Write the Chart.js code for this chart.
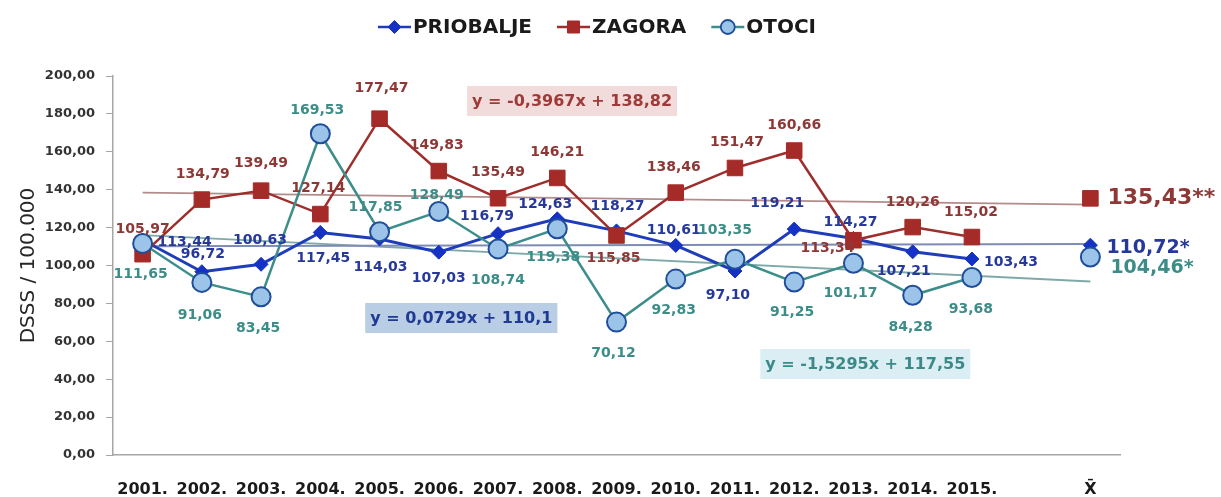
<!DOCTYPE html>
<html><head><meta charset="utf-8">
<script src="https://cdn.jsdelivr.net/npm/chart.js@4.4.1/dist/chart.umd.min.js"></script>
<style>html,body{margin:0;padding:0;background:#fff;}#wrap{width:1221px;height:497px;}</style>
</head><body><div id="wrap"><canvas id="c" width="1221" height="497"></canvas></div>
<script>
// ---------- DATA ----------
const categories = ['2001.','2002.','2003.','2004.','2005.','2006.','2007.','2008.','2009.','2010.','2011.','2012.','2013.','2014.','2015.','','X\u0304'];
const seriesNames = ['PRIOBALJE','ZAGORA','OTOCI'];
const priobalje = [113.44,96.72,100.63,117.45,114.03,107.03,116.79,124.63,118.27,110.61,97.10,119.21,114.27,107.21,103.43];
const zagora    = [105.97,134.79,139.49,127.14,177.47,149.83,135.49,146.21,115.85,138.46,151.47,160.66,113.34,120.26,115.02];
const otoci     = [111.65,91.06,83.45,169.53,117.85,128.49,108.74,119.38,70.12,92.83,103.35,91.25,101.17,84.28,93.68];
const meanValues = [110.72,135.43,104.46];
const meanLabels = ['110,72*','135,43**','104,46*'];
// trend line values read at the first category and at the X̄ position
const trendPriobalje = [110.17,111.34];
const trendZagora    = [138.42,132.08];
const trendOtoci     = [116.02,91.55];
const equations = ['y = 0,0729x + 110,1','y = -0,3967x + 138,82','y = -1,5295x + 117,55'];
const yTicks = [0,20,40,60,80,100,120,140,160,180,200];
const yTitle = 'DSSS / 100.000';

// ---------- STYLE ----------
const colors = {
  line:  ['#1F3DB8','#9E2E2C','#3D8E8B'],
  fill:  ['#1632C4','#A52B28','#9CC4E8'],
  border:['#1632C4','#A52B28','#1F4E9A'],
  label: ['#26389A','#8E3836','#3C8C88'],
  trend: ['#7E8CB4','#B28C8A','#7FA9A8'],
  eqBg:  ['#B9CDE5','#F2DCDB','#DBEEF4'],
  eqText:['#1F3A93','#A03A38','#3B8A88']
};
const pointStyles = ['rectRot','rect','circle'];
const pointRadii = [7,11,9.5];
const pointBorderW = [1,1,2];
// label offsets (dx, dy) in px from the marker, per series
const labelOffsets = [
  [[42,2],[1,-17],[-1,-24],[3,26],[1,28],[0,26],[-11,-17],[-12,-14],[1,-25],[-2,-15],[-7,24],[-17,-26],[-3,-16],[-9,20],[39,3]],
  [[0,-25],[1,-25],[0,-27],[-2,-26],[2,-30],[-2,-26],[0,-26],[0,-26],[-3,23],[-2,-25],[2,-26],[0,-25],[-26,8],[0,-25],[-1,-25]],
  [[-2,31],[-2,33],[-3,31],[-3,-23],[-4,-24],[-2,-16],[0,31],[-4,29],[-3,31],[-2,31],[-10,-29],[-2,30],[-3,30],[-2,32],[-1,32]]
];
const meanLabelOffsets = [[16,3],[17,0],[20,11]];
const meanLabelSizes = [19,22,19];
// equation box anchors in (category index, value) units
const eqAnchors = [[5.38,72.3],[7.25,186.8],[12.2,48]];

const FONT = 'DejaVu Sans';
const N = categories.length;
function full(vals){const a=new Array(N).fill(null);vals.forEach((v,i)=>a[i]=v);return a;}
function atEnd(v){const a=new Array(N).fill(null);a[N-1]=v;return a;}
function trend(p){const a=new Array(N).fill(null);a[0]=p[0];a[N-1]=p[1];return a;}
const fmt = v => v.toFixed(2).replace('.',',');

const seriesData = [priobalje,zagora,otoci];
const trends = [trendPriobalje,trendZagora,trendOtoci];
const datasets = [];
seriesData.forEach((d,i)=>datasets.push({
  label: seriesNames[i], data: full(d), kind:'series', sIdx:i,
  borderColor: colors.line[i], borderWidth: i===0?3:2.5,
  pointStyle: pointStyles[i], pointRadius: pointRadii[i],
  pointBackgroundColor: colors.fill[i], pointBorderColor: colors.border[i], pointBorderWidth: pointBorderW[i],
  order: 3-i, tension:0
}));
meanValues.forEach((v,i)=>datasets.push({
  label: seriesNames[i]+' X\u0304', data: atEnd(v), kind:'mean', sIdx:i, showLine:false,
  pointStyle: pointStyles[i], pointRadius: pointRadii[i],
  pointBackgroundColor: colors.fill[i], pointBorderColor: colors.border[i], pointBorderWidth: pointBorderW[i],
  order: 3-i
}));
trends.forEach((t,i)=>datasets.push({
  label: seriesNames[i]+' trend', data: trend(t), kind:'trend', sIdx:i, spanGaps:true,
  borderColor: colors.trend[i], borderWidth: 1.8, pointRadius:0, order: 6
}));

function legendIcon(ctx, i, x, y){
  ctx.save();
  ctx.strokeStyle = colors.line[i]; ctx.lineWidth = 2.5;
  ctx.beginPath(); ctx.moveTo(x, y); ctx.lineTo(x+33, y); ctx.stroke();
  ctx.fillStyle = colors.fill[i]; ctx.strokeStyle = colors.border[i];
  ctx.lineWidth = i===2?1.8:1;
  Chart.helpers.drawPoint(ctx,{pointStyle:pointStyles[i],radius:[6.5,8.5,7][i],rotation:0,borderWidth:ctx.lineWidth},x+16.5,y);
  ctx.restore();
}

const overlay = {
  id:'overlay',
  afterDatasetsDraw(chart){
    const ctx = chart.ctx, xs = chart.scales.x, ys = chart.scales.y;
    ctx.save();
    ctx.textAlign='center'; ctx.textBaseline='middle';
    ctx.font = 'bold 14px "'+FONT+'"';
    chart.data.datasets.forEach((ds,di)=>{
      if(ds.kind!=='series') return;
      const meta = chart.getDatasetMeta(di);
      meta.data.forEach((pt,j)=>{
        const v = ds.data[j]; if(v==null) return;
        const off = labelOffsets[ds.sIdx][j];
        ctx.fillStyle = colors.label[ds.sIdx];
        ctx.fillText(fmt(v), pt.x+off[0], pt.y+off[1]);
      });
    });
    // mean labels
    ctx.textAlign='left';
    meanValues.forEach((v,i)=>{
      const x = xs.getPixelForValue(N-1), y = ys.getPixelForValue(v);
      ctx.font = 'bold '+meanLabelSizes[i]+'px "'+FONT+'"';
      ctx.fillStyle = colors.label[i];
      ctx.fillText(meanLabels[i], x+meanLabelOffsets[i][0], y+meanLabelOffsets[i][1]);
    });
    // equation boxes
    ctx.textAlign='center';
    ctx.font = 'bold 16px "'+FONT+'"';
    equations.forEach((eq,i)=>{
      const cx = xs.getPixelForValue(eqAnchors[i][0]), cy = ys.getPixelForValue(eqAnchors[i][1]);
      const w = ctx.measureText(eq).width + 10, h = 30;
      ctx.fillStyle = colors.eqBg[i];
      ctx.fillRect(cx-w/2, cy-h/2, w, h);
      ctx.fillStyle = colors.eqText[i];
      ctx.fillText(eq, cx, cy+1);
    });
    // legend
    ctx.font = 'bold 20px "'+FONT+'"';
    ctx.textAlign='left';
    const symW=33, gap=2, itemGap=25;
    const widths = seriesNames.map(n=>symW+gap+ctx.measureText(n).width);
    const total = widths.reduce((a,b)=>a+b,0)+itemGap*(widths.length-1);
    let x = 597 - total/2; const ly = 27;
    seriesNames.forEach((n,i)=>{
      legendIcon(ctx,i,x,ly);
      ctx.fillStyle='#1a1a1a';
      ctx.fillText(n, x+symW+gap, ly+1);
      x += widths[i]+itemGap;
    });
    ctx.restore();
  }
};

new Chart(document.getElementById('c'),{
  type:'line',
  data:{labels:categories, datasets},
  plugins:[overlay],
  options:{
    responsive:false, animation:false, events:[],
    layout:{padding:{top:76,right:101,bottom:0,left:8}},
    plugins:{legend:{display:false},tooltip:{enabled:false}},
    scales:{
      x:{
        offset:true,
        afterFit(s){ s.height = 42; },
        grid:{display:true,drawOnChartArea:false,drawTicks:false},
        border:{display:true,color:'#A6A6A6',width:1.5},
        ticks:{autoSkip:false,maxRotation:0,padding:25,color:'#1a1a1a',font:{family:FONT,weight:'bold',size:16}}
      },
      y:{
        min:0,max:200,
        afterBuildTicks(s){ s.ticks = yTicks.map(v=>({value:v})); },
        afterFit(s){ s.width = 105; },
        grid:{display:true,drawOnChartArea:false,drawTicks:true,tickLength:7,color:'#A6A6A6'},
        border:{display:true,color:'#A6A6A6',width:1.5},
        ticks:{padding:11,color:'#333333',font:{family:FONT,weight:'bold',size:13},callback:v=>fmt(v)},
        title:{display:true,text:yTitle,color:'#262626',font:{family:FONT,size:20},padding:{top:9,bottom:0}}
      }
    }
  }
});
</script></body></html>
